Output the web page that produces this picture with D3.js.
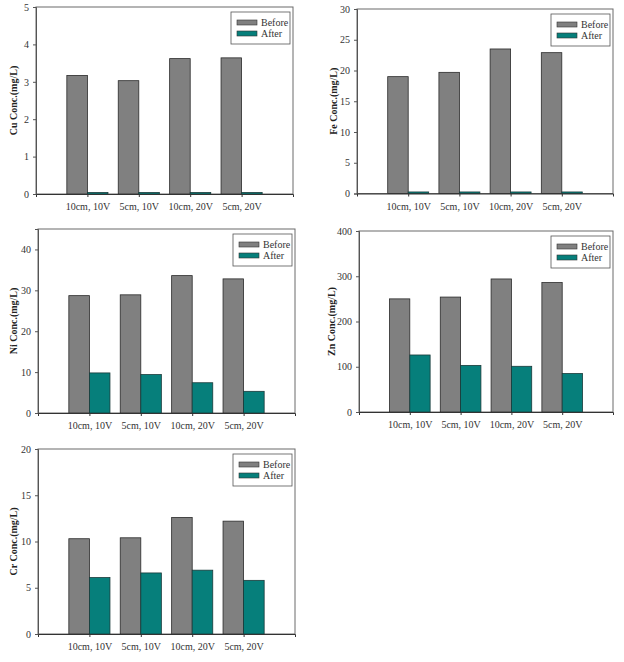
<!DOCTYPE html>
<html><head><meta charset="utf-8">
<script src="https://cdn.jsdelivr.net/npm/d3@7/dist/d3.min.js"></script>
<style>
body{margin:0;background:#fff;}
svg{display:block;}
text{font-family:"Liberation Serif","Times New Roman",serif;}
</style></head>
<body>
<svg id="c" width="624" height="662"></svg>
<script>
const categories = ["10cm, 10V", "5cm, 10V", "10cm, 20V", "5cm, 20V"];
const seriesNames = ["Before", "After"];

const cuBefore = [3.17, 3.03, 3.62, 3.64];
const cuAfter  = [0.04, 0.04, 0.04, 0.04];
const feBefore = [19.0, 19.7, 23.5, 22.9];
const feAfter  = [0.25, 0.25, 0.25, 0.25];
const niBefore = [28.7, 28.9, 33.6, 32.8];
const niAfter  = [9.8, 9.4, 7.4, 5.3];
const znBefore = [250, 254, 294, 286];
const znAfter  = [126, 103, 101, 85];
const crBefore = [10.3, 10.4, 12.6, 12.2];
const crAfter  = [6.1, 6.6, 6.9, 5.8];

const cuTicks = [0, 1, 2, 3, 4, 5];
const feTicks = [0, 5, 10, 15, 20, 25, 30];
const niTicks = [0, 10, 20, 30, 40];
const znTicks = [0, 100, 200, 300, 400];
const crTicks = [0, 5, 10, 15, 20];

const panels = [
  {label:"Cu Conc.(mg/L)", before:cuBefore, after:cuAfter, ticks:cuTicks, max:5,   box:[36,7,293,194],   lx:13},
  {label:"Fe Conc.(mg/L)", before:feBefore, after:feAfter, ticks:feTicks, max:30,  box:[357,9,613,193.5], lx:333},
  {label:"Ni Conc.(mg/L)", before:niBefore, after:niAfter, ticks:niTicks, max:45,  box:[38,229,295,413], lx:13},
  {label:"Zn Conc.(mg/L)", before:znBefore, after:znAfter, ticks:znTicks, max:400, box:[359,231,613,412], lx:331},
  {label:"Cr Conc.(mg/L)", before:crBefore, after:crAfter, ticks:crTicks, max:20,  box:[38,449,295,634], lx:13}
];

const colors = {Before:"#808080", After:"#067f7b"};
const svg = d3.select("#c");

panels.forEach(p => {
  const [x0,y0,x1,y1] = p.box;
  const g = svg.append("g");
  const x = d3.scaleLinear().domain([0, 5]).range([x0, x1]);
  const y = d3.scaleLinear().domain([0, p.max]).range([y1, y0]);
  const bw = x(0.4) - x(0);

  // frame
  g.append("rect").attr("x", x0).attr("y", y0).attr("width", x1-x0).attr("height", y1-y0)
    .attr("fill", "none").attr("stroke", "#6a6a6a").attr("stroke-width", 1);

  // bars
  const data = categories.map((c,i) => ({i, before:p.before[i], after:p.after[i]}));
  g.selectAll("rect.b").data(data).join("rect").attr("class","b")
    .attr("x", d => x(d.i+1) - bw).attr("width", bw)
    .attr("y", d => y(d.before)).attr("height", d => y(0) - y(d.before))
    .attr("fill", colors.Before).attr("stroke", "#2a2a2a").attr("stroke-width", 0.8);
  g.selectAll("rect.a").data(data).join("rect").attr("class","a")
    .attr("x", d => x(d.i+1)).attr("width", bw)
    .attr("y", d => y(d.after)).attr("height", d => Math.max(0.8, y(0) - y(d.after)))
    .attr("fill", colors.After).attr("stroke", "#1a3a3a").attr("stroke-width", 0.8);

  // y axis
  const ya = g.append("g").attr("transform", `translate(${x0},0)`)
    .call(d3.axisLeft(y).tickValues(p.ticks).tickSize(3).tickPadding(4).tickFormat(d3.format("d")));
  ya.select(".domain").attr("stroke", "#555");
  ya.selectAll(".tick line").attr("stroke", "#555");
  ya.selectAll("text").attr("font-size", 10).attr("fill", "#333");

  // x axis
  const xa = g.append("g").attr("transform", `translate(0,${y1})`)
    .call(d3.axisBottom(x).tickValues([1,2,3,4]).tickSize(3).tickPadding(6)
      .tickFormat(d => categories[d-1]));
  xa.select(".domain").attr("stroke", "#333");
  xa.selectAll(".tick line").attr("stroke", "#333");
  xa.selectAll("text").attr("font-size", 10).attr("fill", "#333");

  // y label
  g.append("text")
    .attr("transform", `translate(${p.lx + 4},${(y0+y1)/2}) rotate(-90)`)
    .attr("text-anchor", "middle").attr("font-size", 10).attr("font-weight", "bold")
    .attr("fill", "#222").text(p.label);

  // legend
  const lw = 59, lh = 32;
  const lgx = x1 - 3 - lw, lgy = y0 + 5;
  const lg = g.append("g").attr("transform", `translate(${lgx},${lgy})`);
  lg.append("rect").attr("width", lw).attr("height", lh).attr("fill", "#fff")
    .attr("stroke", "#555").attr("stroke-width", 0.8);
  seriesNames.forEach((s, k) => {
    lg.append("rect").attr("x", 6).attr("y", 8 + k*11).attr("width", 20).attr("height", 5)
      .attr("fill", colors[s]).attr("stroke", "#333").attr("stroke-width", 0.6);
    lg.append("text").attr("x", 30).attr("y", 14 + k*11).attr("font-size", 10)
      .attr("fill", "#333").text(s);
  });
});
</script>
</body></html>
